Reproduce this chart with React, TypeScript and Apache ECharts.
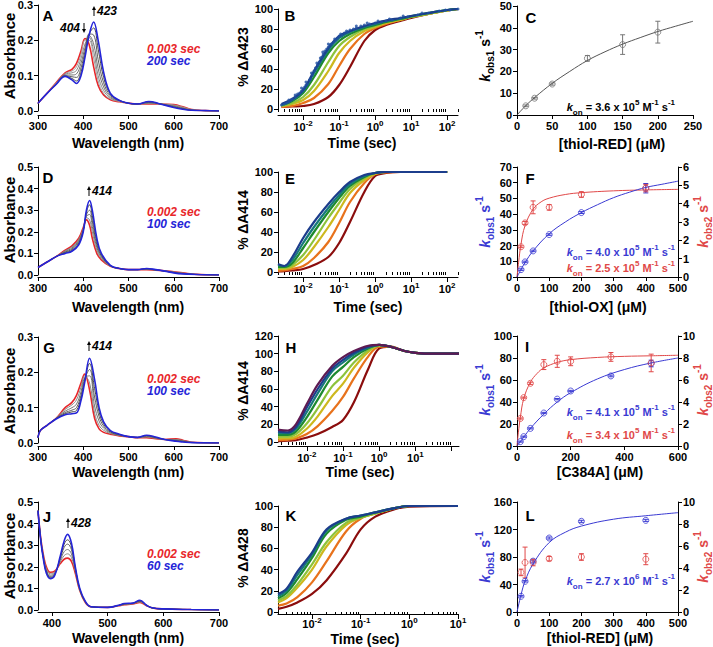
import React, { useEffect, useRef } from 'react';
import * as echarts from 'echarts';

// ================= DATA =================
// Panel A spectra
const WL_A = [300, 320, 340, 360, 375, 385, 395, 404, 413, 423, 433, 445, 460, 480, 500, 520, 545, 570, 600, 620, 640, 670, 700];
const A_RED = [0.022, 0.05, 0.08, 0.108, 0.118, 0.135, 0.17, 0.205, 0.188, 0.125, 0.072, 0.045, 0.032, 0.026, 0.022, 0.02, 0.02, 0.02, 0.018, 0.012, 0.004, 0.001, 0];
const A_G1 = [0.022, 0.05, 0.079, 0.106, 0.113, 0.125, 0.16, 0.2, 0.2, 0.15, 0.085, 0.05, 0.034, 0.027, 0.022, 0.02, 0.021, 0.02, 0.017, 0.011, 0.004, 0.001, 0];
const A_G2 = [0.022, 0.05, 0.078, 0.104, 0.108, 0.115, 0.148, 0.19, 0.208, 0.17, 0.1, 0.058, 0.037, 0.028, 0.022, 0.02, 0.022, 0.02, 0.015, 0.009, 0.003, 0.001, 0];
const A_G3 = [0.022, 0.05, 0.077, 0.102, 0.102, 0.105, 0.135, 0.18, 0.214, 0.19, 0.12, 0.068, 0.04, 0.029, 0.022, 0.02, 0.023, 0.02, 0.014, 0.008, 0.003, 0.001, 0];
const A_G4 = [0.022, 0.05, 0.076, 0.1, 0.097, 0.095, 0.122, 0.17, 0.218, 0.215, 0.145, 0.08, 0.044, 0.03, 0.022, 0.02, 0.024, 0.02, 0.012, 0.007, 0.002, 0.001, 0];
const A_G5 = [0.022, 0.05, 0.075, 0.099, 0.092, 0.085, 0.11, 0.16, 0.217, 0.235, 0.175, 0.095, 0.048, 0.03, 0.022, 0.02, 0.026, 0.02, 0.011, 0.006, 0.002, 0.001, 0];
const A_BLUE = [0.022, 0.05, 0.075, 0.098, 0.088, 0.078, 0.1, 0.153, 0.215, 0.252, 0.2, 0.11, 0.05, 0.03, 0.022, 0.02, 0.027, 0.02, 0.01, 0.005, 0.002, 0.001, 0];

// Panel D spectra
const WL_D = [300, 320, 340, 360, 375, 390, 400, 407, 414, 420, 430, 440, 460, 480, 500, 520, 540, 560, 580, 600, 620, 650, 700];
const D_RED = [0.035, 0.06, 0.085, 0.115, 0.135, 0.17, 0.22, 0.255, 0.23, 0.17, 0.1, 0.07, 0.04, 0.03, 0.025, 0.025, 0.025, 0.022, 0.02, 0.015, 0.01, 0.003, 0];
const D_G1 = [0.035, 0.06, 0.085, 0.112, 0.13, 0.165, 0.215, 0.265, 0.255, 0.2, 0.115, 0.076, 0.041, 0.03, 0.025, 0.025, 0.026, 0.023, 0.019, 0.014, 0.009, 0.003, 0];
const D_G2 = [0.035, 0.06, 0.085, 0.109, 0.125, 0.16, 0.212, 0.272, 0.28, 0.225, 0.128, 0.082, 0.042, 0.03, 0.025, 0.025, 0.027, 0.023, 0.019, 0.013, 0.008, 0.003, 0];
const D_G3 = [0.035, 0.06, 0.085, 0.106, 0.12, 0.155, 0.208, 0.28, 0.3, 0.25, 0.14, 0.088, 0.043, 0.03, 0.025, 0.025, 0.028, 0.024, 0.018, 0.012, 0.007, 0.002, 0];
const D_G4 = [0.035, 0.06, 0.085, 0.103, 0.115, 0.148, 0.204, 0.29, 0.325, 0.275, 0.155, 0.094, 0.044, 0.03, 0.025, 0.025, 0.029, 0.024, 0.018, 0.011, 0.006, 0.002, 0];
const D_BLUE = [0.035, 0.06, 0.085, 0.1, 0.11, 0.14, 0.2, 0.3, 0.345, 0.3, 0.17, 0.1, 0.045, 0.03, 0.025, 0.025, 0.03, 0.025, 0.018, 0.01, 0.005, 0.002, 0];

// Panel G spectra
const WL_G = [300, 305, 320, 340, 360, 375, 385, 395, 403, 414, 425, 435, 445, 460, 480, 500, 520, 540, 560, 580, 605, 620, 640, 700];
const G_RED = [0.015, 0.035, 0.05, 0.07, 0.1, 0.115, 0.135, 0.17, 0.195, 0.15, 0.07, 0.04, 0.03, 0.025, 0.02, 0.018, 0.015, 0.015, 0.012, 0.01, 0.012, 0.008, 0.002, 0];
const G_G1 = [0.015, 0.035, 0.05, 0.07, 0.095, 0.108, 0.122, 0.158, 0.19, 0.17, 0.085, 0.05, 0.036, 0.027, 0.021, 0.018, 0.015, 0.017, 0.013, 0.01, 0.01, 0.007, 0.002, 0];
const G_G2 = [0.015, 0.035, 0.05, 0.07, 0.09, 0.1, 0.11, 0.145, 0.185, 0.19, 0.105, 0.062, 0.042, 0.029, 0.022, 0.018, 0.015, 0.018, 0.014, 0.01, 0.009, 0.006, 0.002, 0];
const G_G3 = [0.015, 0.035, 0.05, 0.069, 0.086, 0.093, 0.1, 0.135, 0.18, 0.208, 0.13, 0.075, 0.048, 0.031, 0.023, 0.018, 0.016, 0.02, 0.015, 0.01, 0.007, 0.005, 0.001, 0];
const G_G4 = [0.015, 0.035, 0.05, 0.069, 0.083, 0.088, 0.092, 0.127, 0.175, 0.225, 0.155, 0.088, 0.054, 0.033, 0.024, 0.018, 0.016, 0.021, 0.016, 0.01, 0.006, 0.004, 0.001, 0];
const G_BLUE = [0.015, 0.035, 0.05, 0.068, 0.08, 0.083, 0.085, 0.12, 0.17, 0.24, 0.18, 0.1, 0.06, 0.035, 0.025, 0.018, 0.016, 0.022, 0.017, 0.01, 0.005, 0.003, 0.001, 0];

// Panel J spectra
const WL_J = [375, 380, 385, 390, 397, 405, 415, 422, 428, 435, 442, 450, 460, 470, 500, 520, 530, 545, 558, 570, 580, 600, 650, 700];
const J_RED = [0.46, 0.33, 0.25, 0.2, 0.175, 0.18, 0.215, 0.235, 0.24, 0.225, 0.17, 0.09, 0.035, 0.015, 0.012, 0.02, 0.024, 0.028, 0.035, 0.02, 0.01, 0.005, 0.002, 0];
const J_G1 = [0.46, 0.328, 0.245, 0.192, 0.168, 0.175, 0.222, 0.252, 0.26, 0.243, 0.178, 0.092, 0.036, 0.015, 0.012, 0.02, 0.025, 0.029, 0.037, 0.02, 0.01, 0.005, 0.002, 0];
const J_G2 = [0.46, 0.326, 0.241, 0.186, 0.161, 0.171, 0.23, 0.27, 0.28, 0.26, 0.185, 0.094, 0.037, 0.015, 0.012, 0.021, 0.026, 0.03, 0.039, 0.021, 0.01, 0.005, 0.002, 0];
const J_G3 = [0.46, 0.324, 0.237, 0.18, 0.155, 0.167, 0.238, 0.29, 0.305, 0.28, 0.19, 0.096, 0.038, 0.015, 0.012, 0.021, 0.028, 0.031, 0.041, 0.021, 0.01, 0.005, 0.002, 0];
const J_G4 = [0.46, 0.322, 0.233, 0.175, 0.15, 0.163, 0.244, 0.305, 0.325, 0.295, 0.195, 0.098, 0.039, 0.015, 0.012, 0.022, 0.029, 0.031, 0.043, 0.022, 0.01, 0.005, 0.002, 0];
const J_BLUE = [0.46, 0.32, 0.23, 0.17, 0.145, 0.16, 0.25, 0.32, 0.35, 0.31, 0.2, 0.1, 0.04, 0.015, 0.012, 0.022, 0.03, 0.032, 0.045, 0.022, 0.01, 0.005, 0.002, 0];

// Panel B kinetics (%ΔA423), slowest → fastest
const T_B = [0.0025, 0.005, 0.01, 0.02, 0.05, 0.1, 0.2, 0.5, 1, 2, 5, 10, 30, 100, 200];
const B_1 = [2, 2.5, 3, 5, 12, 24, 42, 68, 79, 84, 88, 91, 95, 98.5, 100];
const B_2 = [2, 3, 6, 11, 25, 43, 60, 75, 81, 85, 89, 92, 95, 98.5, 100];
const B_3 = [3, 5, 9, 18, 38, 56, 68, 78, 82, 86, 89, 92, 95, 98.5, 100];
const B_4 = [3, 6, 12, 24, 47, 63, 72, 80, 83, 87, 90, 92, 95, 98.5, 100];
const B_5 = [4, 8, 16, 32, 56, 68, 75, 81, 84, 87, 90, 92.5, 96, 99, 100];
const B_6 = [4, 9, 18, 36, 59, 71, 77, 82, 85, 88, 90.5, 93, 96, 99, 100];
const B_7 = [5, 10, 19, 38, 61, 73, 78, 83, 86, 88.5, 91, 93, 96, 99, 100];
const B_DOT_T = [0.0025, 0.003, 0.0035, 0.004, 0.0045, 0.005, 0.006, 0.007, 0.008, 0.009, 0.01, 0.011, 0.012, 0.013, 0.015, 0.016, 0.018, 0.02, 0.022, 0.025, 0.028, 0.03, 0.033, 0.036, 0.04, 0.045, 0.05, 0.055, 0.06, 0.07, 0.08, 0.09, 0.1, 0.12, 0.14, 0.17, 0.2, 0.25, 0.3, 0.4, 0.5, 0.7, 1, 1.5, 2, 3, 5, 8, 15, 30, 60, 120, 200];
const B_DOT_Y = [4, 5, 6, 7, 9, 10, 12, 15, 16, 18, 20, 22, 24, 25, 29, 30, 34, 38, 41, 44, 47, 51, 52, 55, 58, 60, 62, 64, 65, 67, 69, 71, 73, 74, 76, 77, 79, 80, 81, 83, 84, 85, 86, 87, 88, 89, 91, 92, 94, 96, 98, 99, 100];
const B_DOT2_T = [0.004, 0.006, 0.009, 0.012, 0.017, 0.024, 0.035, 0.05, 0.075, 0.11, 0.16, 0.3, 0.6, 1.2, 2.5, 6, 20, 90];
const B_DOT2_Y = [9, 14, 21, 27, 36, 46, 57, 65, 70, 75, 78, 83, 86, 88, 90, 93, 96, 99];

// Panel E kinetics (%ΔA414)
const T_E = [0.002, 0.003, 0.005, 0.01, 0.02, 0.05, 0.1, 0.2, 0.5, 1, 2, 5, 100];
const E_1 = [0.5, 0.8, 1.5, 3, 7, 15, 29, 50, 80, 96, 99, 100, 100];
const E_2 = [1, 1.5, 3, 6, 14, 30, 49, 70, 89, 98, 99.5, 100, 100];
const E_3 = [3, 3, 5, 12, 25, 45, 62, 79, 92, 98, 100, 100, 100];
const E_4 = [4, 4, 7, 17, 32, 54, 69, 83, 94, 99, 100, 100, 100];
const E_5 = [5, 5, 9, 24, 40, 60, 74, 86, 95, 99, 100, 100, 100];
const E_6 = [7, 6, 12, 29, 45, 64, 77, 88, 96, 99, 100, 100, 100];
const E_7 = [8, 6, 15, 34, 50, 68, 80, 90, 97, 99, 100, 100, 100];

// Panel H kinetics (%ΔA414, C384A)
const T_H = [0.0016, 0.003, 0.005, 0.01, 0.02, 0.05, 0.1, 0.2, 0.5, 1, 2, 5, 10, 30, 160];
const H_1 = [1, 1.5, 2, 5, 9, 17, 25, 45, 83, 106, 108, 103, 101, 100, 100];
const H_2 = [2, 2.5, 4, 9, 18, 35, 51, 72, 97, 108, 108, 103, 101, 100, 100];
const H_3 = [4, 4, 6, 15, 29, 52, 66, 84, 102, 109, 108, 103, 101, 100, 100];
const H_4 = [6, 6, 9, 21, 38, 63, 75, 90, 104, 109, 108, 103, 101, 100, 100];
const H_5 = [8, 8, 12, 28, 48, 74, 85, 96, 106, 110, 108, 103, 101, 100, 100];
const H_6 = [10, 10, 15, 34, 55, 80, 90, 99, 107, 110, 108, 103, 101, 100, 100];
const H_7 = [12, 11, 17, 39, 60, 83, 93, 101, 108, 110, 108, 103, 101, 100, 100];
const H_8 = [14, 13, 20, 43, 65, 86, 96, 103, 109, 110, 108, 103, 101, 100, 100];

// Panel K kinetics (%ΔA428)
const T_K = [0.002, 0.003, 0.005, 0.01, 0.02, 0.05, 0.1, 0.2, 0.5, 1, 10];
const K_1 = [3, 5, 9, 17, 30, 55, 78, 90, 97, 99.5, 100];
const K_2 = [6, 8, 14, 28, 48, 76, 88, 93, 98, 100, 100];
const K_3 = [9, 13, 23, 40, 62, 82, 89, 93, 98, 100, 100];
const K_4 = [11, 15, 26, 45, 66, 84, 89, 93, 98, 100, 100];
const K_5 = [13, 18, 31, 51, 74, 87, 90, 94, 98, 100, 100];
const K_6 = [15, 20, 35, 54, 77, 88, 91, 94, 98, 100, 100];
const K_7 = [17, 22, 38, 56, 78, 88, 91, 94, 98, 100, 100];

// Panel C
const C_X = [12.5, 25, 50, 100, 150, 200];
const C_Y = [4.2, 7.7, 14.2, 26, 32.3, 38];
const C_ERR = [0.4, 0.4, 0.5, 1.3, 4.5, 5];
const C_FIT_X = [0, 12.5, 25, 50, 75, 100, 125, 150, 175, 200, 225, 250];
const C_FIT_Y = [0, 4.3, 8, 14.5, 20, 25, 29, 32.5, 35.5, 38.3, 40.7, 43];

// Panel F
const F_X = [12.5, 25, 50, 100, 200, 400];
const F_K1 = [4.7, 9.6, 16.6, 27, 41, 56.5];
const F_K1_ERR = [0.5, 0.5, 0.5, 0.5, 0.6, 3];
const F_K2 = [1.65, 2.95, 3.8, 3.8, 4.5, 4.85];
const F_K2_ERR = [0.05, 0.08, 0.35, 0.15, 0.15, 0.2];
const F_FIT1_X = [0, 12.5, 25, 50, 100, 150, 200, 250, 300, 350, 400, 450, 500];
const F_FIT1_Y = [0, 4.8, 9.2, 16.6, 27.5, 35, 41, 46, 50.5, 54, 57, 59, 61];
const F_FIT2_X = [0, 5, 12.5, 25, 50, 75, 100, 150, 200, 300, 400, 500];
const F_FIT2_Y = [0, 0.8, 1.8, 2.8, 3.7, 4.1, 4.3, 4.5, 4.6, 4.7, 4.75, 4.78];

// Panel I
const I_X = [12.5, 25, 50, 100, 150, 200, 350, 500];
const I_K1 = [4, 8.5, 16, 30, 42.6, 50, 63.7, 75];
const I_K1_ERR = [0.5, 0.5, 0.5, 0.6, 0.6, 0.6, 0.8, 3];
const I_K2 = [2.5, 4.4, 5.7, 7.4, 7.7, 7.7, 8.1, 7.55];
const I_K2_ERR = [0.05, 0.05, 0.1, 0.45, 0.55, 0.4, 0.4, 0.8];
const I_FIT1_X = [0, 12.5, 25, 50, 100, 150, 200, 300, 400, 500, 600];
const I_FIT1_Y = [0, 4, 8, 16, 29, 40, 48.5, 61, 69.5, 75.5, 80];
const I_FIT2_X = [0, 5, 12.5, 25, 50, 75, 100, 150, 200, 300, 400, 500, 600];
const I_FIT2_Y = [0, 1.2, 2.6, 4.3, 5.8, 6.6, 7.1, 7.6, 7.85, 8.05, 8.15, 8.2, 8.25];

// Panel L
const L_X = [12.5, 25, 50, 100, 200, 400];
const L_K1 = [22.8, 44.6, 74, 107.6, 131.9, 133.3];
const L_K1_ERR = [1, 1, 1.5, 1.5, 1.5, 1.5];
const L_K2 = [3.6, 4.5, 4.5, 4.85, 5.0, 4.8];
const L_K2_ERR = [0.3, 1.4, 0.3, 0.2, 0.3, 0.5];
const L_FIT1_X = [0, 12.5, 25, 50, 100, 150, 200, 300, 400, 500];
const L_FIT1_Y = [0, 25, 45, 70, 101, 116, 125, 135, 140, 144.5];

// ================= STYLE / LAYOUT =================
const FONT = '"Liberation Sans", Arial, Helvetica, sans-serif';
const SPEC_RED = '#e8262a';
const SPEC_BLUE = '#2424d8';
const GRAYS = ['#a0a0a0', '#8a8a8a', '#747474', '#5e5e5e', '#484848'];
const KCOL = ['#8b0d0d', '#e8721c', '#cdb81e', '#8dc33b', '#1d8a2f', '#16797b', '#1c3d8c', '#5e1a52'];
const FIT_BLUE = '#3a3ad2';
const FIT_RED = '#e04848';

const LAY: any = {
  A: { l: 38, t: 5, w: 181, h: 106, o: 4 },
  B: { l: 278, t: 9, w: 180, h: 100, o: 6 },
  C: { l: 517, t: 6, w: 176, h: 109, o: 0 },
  D: { l: 38, t: 167, w: 181, h: 108, o: 2 },
  E: { l: 278, t: 172, w: 180, h: 100, o: 5 },
  F: { l: 517, t: 167, w: 161, h: 110, o: 0 },
  G: { l: 38, t: 337, w: 181, h: 106, o: 3 },
  H: { l: 278, t: 336, w: 181, h: 106, o: 4 },
  I: { l: 517, t: 336, w: 161, h: 110, o: 0 },
  J: { l: 38, t: 502, w: 181, h: 108, o: 2 },
  K: { l: 278, t: 506, w: 180, h: 106, o: 2 },
  L: { l: 517, t: 502, w: 161, h: 110, o: 0 },
};

const zip = (xs: number[], ys: number[]) => xs.map((x, i) => [x, ys[i]]);

function logTicks(min: number, max: number, minor: boolean) {
  const out: number[] = [];
  for (let k = Math.floor(Math.log10(min)); k <= Math.ceil(Math.log10(max)); k++) {
    for (let d = 1; d <= 9; d++) {
      if (minor === (d === 1)) continue;
      const v = Number((d * Math.pow(10, k)).toPrecision(6));
      if (v >= min * 0.999 && v <= max * 1.001) out.push(v);
    }
  }
  return out;
}

function buildOption() {
  const grid: any[] = [];
  const xAxis: any[] = [];
  const yAxis: any[] = [];
  const series: any[] = [];
  const graphic: any[] = [];

  const axLine = { show: true, onZero: false, lineStyle: { color: '#000', width: 1 } };
  const tick = (len = 4) => ({ show: true, length: len, inside: false, lineStyle: { color: '#000', width: 1 } });
  const lab = (extra: any = {}) => ({ color: '#000', fontFamily: FONT, fontWeight: 'bold', fontSize: 11, margin: 5, ...extra });

  const addGrid = (L: any) => {
    grid.push({ left: L.l, top: L.t, width: L.w, height: L.h, containLabel: false, outerBoundsMode: 'none' });
    return grid.length - 1;
  };
  const addX = (ax: any) => { xAxis.push(ax); return xAxis.length - 1; };
  const addY = (ax: any) => { yAxis.push(ax); return yAxis.length - 1; };

  const linX = (gi: number, L: any, min: number, max: number, interval: number | null, extra: any = {}) =>
    addX({
      type: 'value', gridIndex: gi, position: 'bottom', offset: L.o, min, max,
      ...(interval ? { interval } : {}),
      axisLine: axLine, axisTick: tick(4), axisLabel: lab(), splitLine: { show: false }, ...extra,
    });

  const expRich = {
    b: { fontFamily: FONT, fontWeight: 'bold', fontSize: 11, color: '#000', lineHeight: 16, verticalAlign: 'middle' },
    s: { fontFamily: FONT, fontWeight: 'bold', fontSize: 8, color: '#000', lineHeight: 9, verticalAlign: 'top' },
  };
  const logX = (gi: number, L: any, min: number, max: number, labels: number[], margin = 4) => {
    const xi = addX({
      type: 'log', gridIndex: gi, position: 'bottom', offset: L.o, min, max,
      axisLine: axLine,
      axisTick: { ...tick(5), customValues: logTicks(min, max, false) },
      axisLabel: {
        ...lab({ margin }), customValues: labels,
        formatter: (v: number) => `{b|10}{s|${Math.round(Math.log10(v))}}`, rich: expRich,
      },
      splitLine: { show: false },
    });
    addX({
      type: 'log', gridIndex: gi, position: 'bottom', offset: L.o, min, max,
      axisLine: { show: false }, axisLabel: { show: false }, splitLine: { show: false },
      axisTick: { ...tick(3), customValues: logTicks(min, max, true) },
    });
    return xi;
  };

  const linY = (gi: number, min: number, max: number, interval: number, fmt: any, pos = 'left') =>
    addY({
      type: 'value', gridIndex: gi, position: pos, min, max, interval,
      axisLine: axLine, axisTick: tick(4), axisLabel: lab({ formatter: fmt }), splitLine: { show: false },
    });

  const line = (xi: number, yi: number, data: any[], color: string, width: number, smooth: any = 0.4) =>
    series.push({
      type: 'line', xAxisIndex: xi, yAxisIndex: yi, data, showSymbol: false, symbol: 'none',
      smooth, lineStyle: { color, width }, itemStyle: { color }, silent: true, clip: true,
    });

  const pts = (xi: number, yi: number, xs: number[], ys: number[], color: string) =>
    series.push({
      type: 'scatter', xAxisIndex: xi, yAxisIndex: yi, data: zip(xs, ys), symbol: 'circle', symbolSize: 6,
      itemStyle: { color: 'rgba(255,255,255,0)', borderColor: color, borderWidth: 1 }, silent: true, z: 4,
    });

  const errs = (xi: number, yi: number, xs: number[], ys: number[], es: number[], color: string) =>
    series.push({
      type: 'custom', xAxisIndex: xi, yAxisIndex: yi, silent: true, z: 3,
      data: xs.map((x, i) => [x, ys[i], es[i]]),
      renderItem: (_p: any, api: any) => {
        const x = api.value(0), y = api.value(1), e = api.value(2);
        const top = api.coord([x, y + e]);
        const bot = api.coord([x, y - e]);
        const st = { stroke: color, lineWidth: 1 };
        return {
          type: 'group',
          children: [
            { type: 'line', shape: { x1: top[0], y1: top[1], x2: bot[0], y2: bot[1] }, style: st },
            { type: 'line', shape: { x1: top[0] - 2.5, y1: top[1], x2: top[0] + 2.5, y2: top[1] }, style: st },
            { type: 'line', shape: { x1: bot[0] - 2.5, y1: bot[1], x2: bot[0] + 2.5, y2: bot[1] }, style: st },
          ],
        };
      },
    });

  const f1 = (v: number) => v.toFixed(1);
  const f0 = (v: number) => String(Math.round(v));

  // ---------- spectra ----------
  const spectra = (key: string, wl: number[], red: number[], grays: number[][], blue: number[], ymax: number, xmin: number) => {
    const L = LAY[key];
    const gi = addGrid(L);
    const xi = xmin === 300
      ? linX(gi, L, 300, 700, 100)
      : linX(gi, L, xmin, 700, null, {
          axisLabel: { ...lab(), customValues: [400, 500, 600, 700] },
          axisTick: { ...tick(4), customValues: [400, 500, 600, 700] },
        });
    const yi = linY(gi, 0, ymax, 0.1, f1);
    line(xi, yi, zip(wl, red), SPEC_RED, 1.6);
    grays.forEach((g, i) => line(xi, yi, zip(wl, g), GRAYS[i + (5 - grays.length)], 1));
    line(xi, yi, zip(wl, blue), SPEC_BLUE, 1.6);
  };
  spectra('A', WL_A, A_RED, [A_G1, A_G2, A_G3, A_G4, A_G5], A_BLUE, 0.3, 300);
  spectra('D', WL_D, D_RED, [D_G1, D_G2, D_G3, D_G4], D_BLUE, 0.5, 300);
  spectra('G', WL_G, G_RED, [G_G1, G_G2, G_G3, G_G4], G_BLUE, 0.3, 300);
  spectra('J', WL_J, J_RED, [J_G1, J_G2, J_G3, J_G4], J_BLUE, 0.5, 375);

  // ---------- kinetics ----------
  const kin = (key: string, t: number[], curves: number[][], min: number, max: number, labels: number[], ymax: number, cols: string[], margin = 4) => {
    const L = LAY[key];
    const gi = addGrid(L);
    const xi = logX(gi, L, min, max, labels, margin);
    const yi = linY(gi, 0, ymax, 20, f0);
    curves.forEach((c, i) => line(xi, yi, zip(t, c), cols[i], 2.2, 0.35));
    return { xi, yi };
  };
  const kb = kin('B', T_B, [B_1, B_2, B_3, B_4, B_5, B_6, B_7], 0.002, 200, [0.01, 0.1, 1, 10, 100], 100, KCOL);
  series.push({
    type: 'scatter', xAxisIndex: kb.xi, yAxisIndex: kb.yi, data: zip(B_DOT_T, B_DOT_Y).concat(zip(B_DOT2_T, B_DOT2_Y)),
    symbol: 'circle', symbolSize: 3, itemStyle: { color: '#1f4fa0' }, silent: true, z: 5,
  });
  kin('E', T_E, [E_1, E_2, E_3, E_4, E_5, E_6, E_7], 0.002, 200, [0.01, 0.1, 1, 10, 100], 100, KCOL);
  kin('H', T_H, [H_1, H_2, H_3, H_4, H_5, H_6, H_7, H_8], 0.0016, 160, [0.01, 0.1, 1, 10], 120, KCOL);
  kin('K', T_K, [K_1, K_2, K_3, K_4, K_5, K_6, K_7], 0.002, 10, [0.01, 0.1, 1, 10], 100, KCOL, 2);

  // ---------- rate plots ----------
  {
    const L = LAY.C; const gi = addGrid(L);
    const xi = linX(gi, L, 0, 250, 50);
    const yi = linY(gi, 0, 50, 10, f0);
    line(xi, yi, zip(C_FIT_X, C_FIT_Y), '#555', 1, 0.4);
    errs(xi, yi, C_X, C_Y, C_ERR, '#777');
    pts(xi, yi, C_X, C_Y, '#777');
  }
  const twoAxis = (key: string, xmax: number, xint: number, y1max: number, y1int: number, y2max: number, y2int: number) => {
    const L = LAY[key]; const gi = addGrid(L);
    const xi = linX(gi, L, 0, xmax, xint);
    const y1 = linY(gi, 0, y1max, y1int, f0, 'left');
    const y2 = linY(gi, 0, y2max, y2int, f0, 'right');
    return { xi, y1, y2 };
  };
  {
    const a = twoAxis('F', 500, 100, 70, 10, 6, 1);
    line(a.xi, a.y2, zip(F_FIT2_X, F_FIT2_Y), FIT_RED, 1, 0.4);
    line(a.xi, a.y1, zip(F_FIT1_X, F_FIT1_Y), FIT_BLUE, 1, 0.4);
    errs(a.xi, a.y1, F_X, F_K1, F_K1_ERR, FIT_BLUE);
    pts(a.xi, a.y1, F_X, F_K1, FIT_BLUE);
    errs(a.xi, a.y2, F_X, F_K2, F_K2_ERR, FIT_RED);
    pts(a.xi, a.y2, F_X, F_K2, FIT_RED);
  }
  {
    const a = twoAxis('I', 600, 200, 100, 20, 10, 2);
    line(a.xi, a.y2, zip(I_FIT2_X, I_FIT2_Y), FIT_RED, 1, 0.4);
    line(a.xi, a.y1, zip(I_FIT1_X, I_FIT1_Y), FIT_BLUE, 1, 0.4);
    errs(a.xi, a.y1, I_X, I_K1, I_K1_ERR, FIT_BLUE);
    pts(a.xi, a.y1, I_X, I_K1, FIT_BLUE);
    errs(a.xi, a.y2, I_X, I_K2, I_K2_ERR, FIT_RED);
    pts(a.xi, a.y2, I_X, I_K2, FIT_RED);
  }
  {
    const a = twoAxis('L', 500, 100, 160, 40, 10, 2);
    line(a.xi, a.y1, zip(L_FIT1_X, L_FIT1_Y), FIT_BLUE, 1, 0.4);
    errs(a.xi, a.y1, L_X, L_K1, L_K1_ERR, FIT_BLUE);
    pts(a.xi, a.y1, L_X, L_K1, FIT_BLUE);
    errs(a.xi, a.y2, L_X, L_K2, L_K2_ERR, FIT_RED);
    pts(a.xi, a.y2, L_X, L_K2, FIT_RED);
  }

  // ---------- texts ----------
  const T = (x: number, y: number, text: string, o: any = {}) =>
    graphic.push({
      type: 'text', x, y, rotation: o.rot || 0, silent: true, z: 100,
      style: {
        text, fill: o.color || '#000',
        font: `${o.italic ? 'italic ' : ''}bold ${o.size || 11}px ${FONT}`,
        align: o.align || 'left', verticalAlign: o.va || 'middle', rich: o.rich,
      },
    });
  const richFor = (size: number, color: string, small: number) => ({
    n: { font: `bold ${size}px ${FONT}`, fill: color, lineHeight: size + 7, verticalAlign: 'middle' },
    k: { font: `italic bold ${size}px ${FONT}`, fill: color, lineHeight: size + 7, verticalAlign: 'middle' },
    sup: { font: `bold ${small}px ${FONT}`, fill: color, lineHeight: small + 1, verticalAlign: 'top' },
    sub: { font: `bold ${small}px ${FONT}`, fill: color, lineHeight: small + 1, verticalAlign: 'bottom' },
  });
  const arrow = (x: number, y1: number, y2: number, up: boolean) => {
    const tip = up ? y1 : y2;
    const base = up ? y1 + 4 : y2 - 4;
    graphic.push({ type: 'line', silent: true, z: 100, shape: { x1: x, y1: up ? y2 : y1, x2: x, y2: base }, style: { stroke: '#000', lineWidth: 1 } });
    graphic.push({ type: 'polygon', silent: true, z: 100, shape: { points: [[x - 2, base], [x + 2, base], [x, tip]] }, style: { fill: '#000' } });
  };

  // panel letters
  ([['A', 48, 15], ['B', 290, 15], ['C', 531, 17], ['D', 48, 177], ['E', 290, 178], ['F', 530, 178],
    ['G', 49, 347], ['H', 291, 347], ['I', 527, 346], ['J', 47, 516], ['K', 291, 515], ['L', 530, 515]] as any[])
    .forEach(([s, x, y]) => T(x, y, s, { size: 15, align: 'center' }));

  // x-axis titles
  ([['Wavelength (nm)', 128, 143], ['Time (sec)', 362, 143], ['[thiol-RED] (μM)', 612, 144],
    ['Wavelength (nm)', 128, 307], ['Time (sec)', 368, 307], ['[thiol-OX] (μM)', 598, 307],
    ['Wavelength (nm)', 128, 472], ['Time (sec)', 360, 472], ['[C384A] (μM)', 600, 472],
    ['Wavelength (nm)', 128, 638], ['Time (sec)', 365, 639], ['[thiol-RED] (μM)', 600, 638]] as any[])
    .forEach(([s, x, y]) => T(x, y, s, { size: 14, align: 'center' }));

  // y-axis titles
  [56, 220, 391, 556].forEach((y) => T(9, y, 'Absorbance', { size: 15, align: 'center', rot: Math.PI / 2 }));
  ([['% ΔA423', 57], ['% ΔA414', 220], ['% ΔA414', 391], ['% ΔA428', 558]] as any[])
    .forEach(([s, y]) => T(243, y, s, { size: 14, align: 'center', rot: Math.PI / 2 }));
  const kobs = (x: number, y: number, idx: string, color: string) =>
    T(x, y, `{k|k}{sub|obs${idx}}{n| s}{sup|-1}`, { size: 14, align: 'center', rot: Math.PI / 2, color, rich: richFor(14, color, 10) });
  kobs(485, 56, '1', '#000');
  kobs(485, 222, '1', FIT_BLUE); kobs(703, 222, '2', FIT_RED);
  kobs(485, 390, '1', FIT_BLUE); kobs(703, 390, '2', FIT_RED);
  kobs(485, 557, '1', FIT_BLUE); kobs(703, 557, '2', FIT_RED);

  // kon annotations
  const kon = (y: number, val: string, exp: string, color: string) =>
    T(675, y, `{k|k}{sub|on}{n| = ${val} x 10}{sup|${exp}}{n| M}{sup|-1}{n| s}{sup|-1}`, { size: 11, align: 'right', color, rich: richFor(11, color, 8) });
  kon(107, '3.6', '5', '#000');
  kon(252, '4.0', '5', FIT_BLUE); kon(268, '2.5', '5', FIT_RED);
  kon(412, '4.1', '5', FIT_BLUE); kon(435, '3.4', '5', FIT_RED);
  kon(581, '2.7', '6', FIT_BLUE);

  // time legends in spectra
  ([[49, '0.003 sec', '200 sec'], [212, '0.002 sec', '100 sec'], [379, '0.002 sec', '100 sec'], [554, '0.002 sec', '60 sec']] as any[])
    .forEach(([y, a, b]) => {
      T(147, y - 0.5, a, { size: 12, italic: true, color: SPEC_RED });
      T(147, y + 12, b, { size: 12, italic: true, color: SPEC_BLUE });
    });

  // peak annotations
  T(80, 28, '404', { size: 12, italic: true, align: 'right' });
  arrow(84, 23, 33, false);
  arrow(94, 6, 16, true);
  T(97, 11, '423', { size: 12, italic: true });
  arrow(89, 186, 196, true);
  T(92, 191, '414', { size: 12, italic: true });
  arrow(89, 341, 351, true);
  T(92, 346, '414', { size: 12, italic: true });
  arrow(68, 518, 528, true);
  T(71, 523, '428', { size: 12, italic: true });

  return { animation: false, backgroundColor: '#fff', grid, xAxis, yAxis, series, graphic };
}

export default function App() {
  const ref = useRef<HTMLDivElement>(null);
  useEffect(() => {
    if (!ref.current) return;
    const chart = echarts.init(ref.current, undefined, { renderer: 'svg' });
    chart.setOption(buildOption());
    return () => chart.dispose();
  }, []);
  return <div ref={ref} style={{ position: 'absolute', left: 0, top: 0, width: 713, height: 647, background: '#fff' }} />;
}
